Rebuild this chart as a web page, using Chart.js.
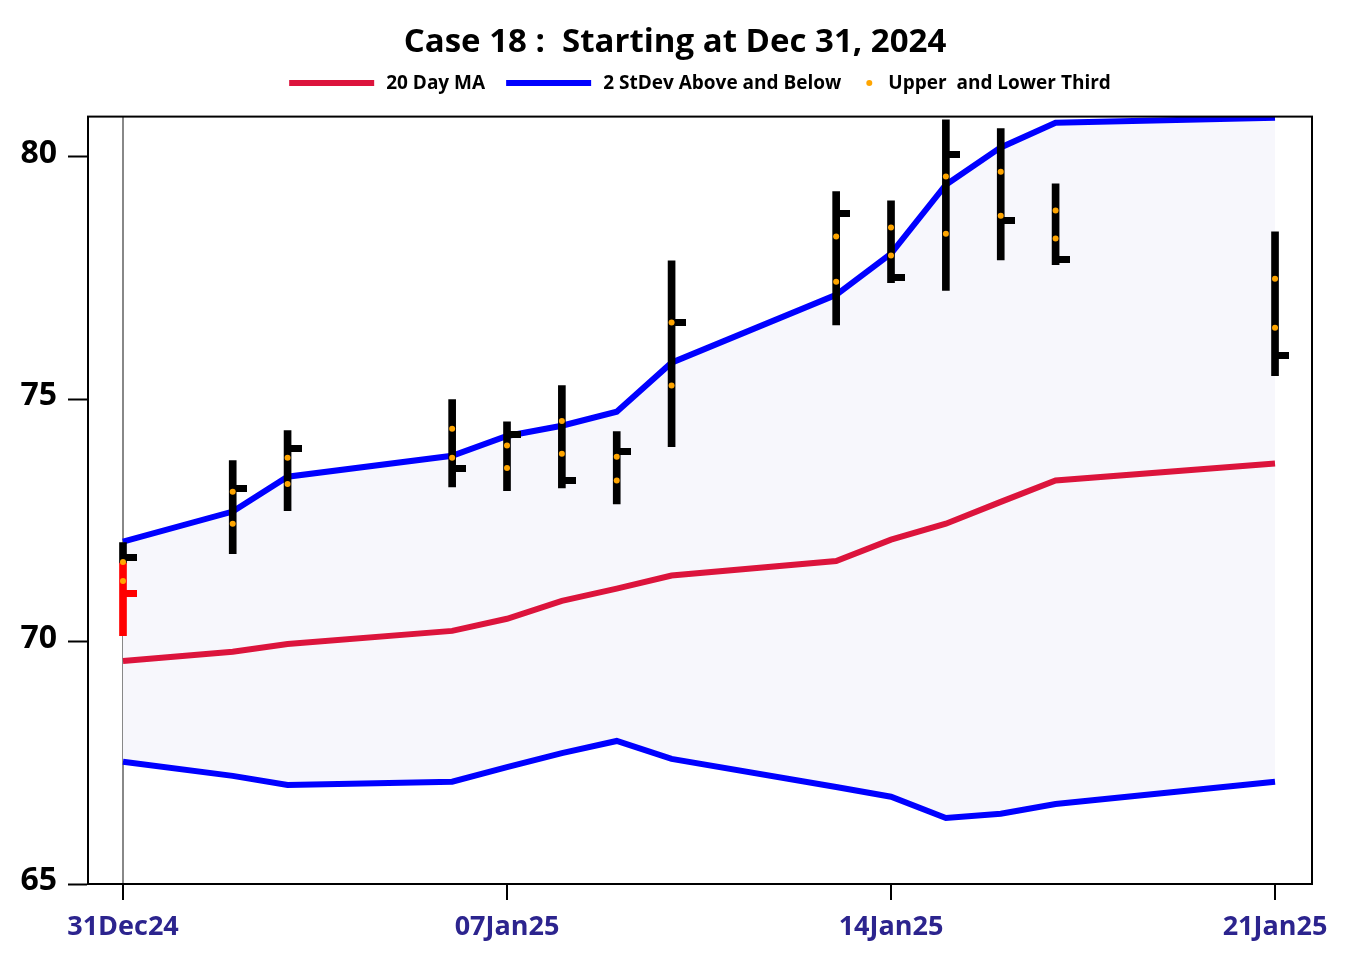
<!DOCTYPE html>
<html>
<head>
<meta charset="utf-8">
<title>Case 18</title>
<script src="https://cdn.jsdelivr.net/npm/chart.js@4.4.1/dist/chart.umd.min.js"></script>
<style>
  html, body { margin: 0; padding: 0; background: #fff; }
</style>
</head>
<body>
<canvas id="bandChart" width="1350" height="975"></canvas>
<script>
// trading days, counted from 31Dec24
const days = [0, 2, 3, 6, 7, 8, 9, 10, 13, 14, 15, 16, 17, 21];

const ma20      = [69.60, 69.79, 69.95, 70.22, 70.47, 70.84, 71.09, 71.36, 71.66, 72.10, 72.43, 72.88, 73.32, 73.67];
const upperBand = [72.06, 72.68, 73.40, 73.83, 74.24, 74.45, 74.74, 75.75, 77.15, 78.00, 79.42, 80.19, 80.70, 80.80];
const lowerBand = [67.52, 67.23, 67.04, 67.11, 67.41, 67.70, 67.95, 67.58, 67.00, 66.80, 66.36, 66.45, 66.65, 67.11];

const highs  = [72.04, 73.73, 74.35, 74.99, 74.53, 75.28, 74.33, 77.85, 79.28, 79.09, 80.76, 80.58, 79.44, 78.45];
const lows   = [71.62, 71.81, 72.70, 73.19, 73.11, 73.17, 72.84, 74.02, 76.53, 77.40, 77.24, 77.87, 77.77, 75.48];
const closes = [71.73, 73.15, 73.98, 73.56, 74.26, 73.32, 73.91, 76.58, 78.82, 77.50, 80.04, 78.68, 77.87, 75.89];

const upperThird = [71.64, 73.09, 73.79, 74.39, 74.04, 74.55, 73.81, 76.58, 78.35, 78.54, 79.59, 79.69, 78.89, 77.48];
const lowerThird = [71.25, 72.43, 73.25, 73.79, 73.58, 73.87, 73.32, 75.28, 77.42, 77.96, 78.41, 78.78, 78.31, 76.47];

// starting day bar (red)
const startHigh  = 71.62;
const startLow   = 70.12;
const startClose = 71.00;

const xTicks      = [0, 7, 14, 21];
const xTickLabels = ['31Dec24', '07Jan25', '14Jan25', '21Jan25'];
const yTicks      = [65, 70, 75, 80];

const FONT = '"Open Sans", "Noto Sans", sans-serif';

// close marker: a short stub to the right of the bar
function closeMark(color) {
  const c = document.createElement('canvas');
  c.width = 28; c.height = 7;
  const g = c.getContext('2d');
  g.fillStyle = color;
  g.fillRect(14, 0, 14, 7);
  return c;
}

const legendItems = [
  { text: '20 Day MA', color: '#DC143C', kind: 'line' },
  { text: '2 StDev Above and Below', color: '#0000FF', kind: 'line' },
  { text: 'Upper  and Lower Third', color: '#FFA500', kind: 'dot' }
];

const bandLegend = {
  id: 'bandLegend',
  afterDraw(chart) {
    const ctx = chart.ctx;
    const area = chart.chartArea;
    ctx.save();
    ctx.font = 'bold 19px ' + FONT;
    ctx.textBaseline = 'middle';
    const widths = legendItems.map(it => (it.kind === 'line' ? 85 : 14) + 12 + ctx.measureText(it.text).width);
    const total = widths.reduce((a, b) => a + b, 0) + 21 * (legendItems.length - 1);
    let x = (area.left + area.right) / 2 - total / 2;
    const y = 83;
    legendItems.forEach((it, i) => {
      ctx.fillStyle = it.color;
      if (it.kind === 'line') {
        ctx.fillRect(x, y - 3, 85, 6);
      } else {
        ctx.beginPath();
        ctx.arc(x + 7, y, 3, 0, Math.PI * 2);
        ctx.fill();
      }
      ctx.fillStyle = '#000';
      ctx.fillText(it.text, x + (it.kind === 'line' ? 85 : 14) + 12, y + 1);
      x += widths[i] + 21;
    });
    ctx.restore();
  }
};

const frame = {
  id: 'frame',
  afterDatasetsDraw(chart) {
    const a = chart.chartArea;
    const ctx = chart.ctx;
    ctx.save();
    ctx.strokeStyle = '#000';
    ctx.lineWidth = 2;
    ctx.strokeRect(a.left, a.top, a.right - a.left, a.bottom - a.top);
    ctx.restore();
  }
};

const pts = arr => days.map((d, i) => ({ x: d, y: arr[i] }));

new Chart(document.getElementById('bandChart'), {
  type: 'line',
  data: {
    datasets: [
      {
        type: 'scatter',
        label: 'Upper  and Lower Third',
        data: pts(upperThird).concat(pts(lowerThird)),
        backgroundColor: '#FFA500',
        borderWidth: 0,
        pointRadius: 3,
        order: 0
      },
      {
        type: 'scatter',
        label: 'start close',
        data: [{ x: days[0], y: startClose }],
        pointStyle: closeMark('#FF0000'),
        pointRadius: 3,
        order: 1
      },
      {
        type: 'bar',
        label: 'start range',
        data: [{ x: days[0], y: [startLow, startHigh] }],
        backgroundColor: '#FF0000',
        barThickness: 7,
        grouped: false,
        order: 2
      },
      {
        type: 'scatter',
        label: 'close',
        data: pts(closes),
        pointStyle: closeMark('#000000'),
        pointRadius: 3,
        order: 3
      },
      {
        type: 'bar',
        label: 'range',
        data: days.map((d, i) => ({ x: d, y: [lows[i], highs[i]] })),
        backgroundColor: '#000000',
        barThickness: 7,
        grouped: false,
        order: 4
      },
      {
        label: '20 Day MA',
        data: pts(ma20),
        borderColor: '#DC143C',
        borderWidth: 6,
        pointRadius: 0,
        fill: false,
        order: 5
      },
      {
        label: '2 StDev Above and Below',
        data: pts(upperBand),
        borderColor: '#0000FF',
        backgroundColor: '#F7F7FC',
        borderWidth: 6,
        pointRadius: 0,
        fill: '+1',
        order: 6
      },
      {
        label: 'lower band',
        data: pts(lowerBand),
        borderColor: '#0000FF',
        borderWidth: 6,
        pointRadius: 0,
        fill: false,
        order: 7
      }
    ]
  },
  options: {
    responsive: false,
    animation: false,
    layout: { padding: 0 },
    plugins: {
      legend: { display: false },
      tooltip: { enabled: false },
      filler: { drawTime: 'beforeDatasetsDraw' },
      title: {
        display: true,
        text: 'Case 18 :  Starting at Dec 31, 2024',
        color: '#000',
        font: { family: FONT, size: 33, weight: 'bold' },
        padding: { top: 23, bottom: 54 }
      }
    },
    scales: {
      x: {
        type: 'linear',
        min: -0.638,
        max: 21.674,
        offset: false,
        afterBuildTicks: s => { s.ticks = xTicks.map(v => ({ value: v })); },
        afterFit: s => { s.height = 91; },
        ticks: {
          callback: (v, i) => xTickLabels[i],
          color: '#2C248E',
          font: { family: FONT, size: 27, weight: 'bold' },
          padding: 11,
          maxRotation: 0,
          autoSkip: false
        },
        grid: {
          offset: false,
          color: c => (c.tick && c.tick.value === 0) ? '#888888' : 'rgba(0,0,0,0)',
          lineWidth: 2,
          tickColor: '#000',
          tickLength: 16,
          tickWidth: 2
        },
        border: { color: '#000', width: 2 }
      },
      y: {
        min: 65,
        max: 80.825,
        afterBuildTicks: s => { s.ticks = yTicks.map(v => ({ value: v })); },
        afterFit: s => { s.width = 88; },
        ticks: {
          color: '#000',
          font: { family: FONT, size: 32, weight: 'bold' },
          padding: 11,
          labelOffset: -3
        },
        grid: {
          drawOnChartArea: false,
          tickColor: '#000',
          tickLength: 20,
          tickWidth: 2
        },
        border: { color: '#000', width: 2 }
      },
      // empty right-hand strip so the title centres on the whole canvas
      yRight: {
        position: 'right',
        min: 65,
        max: 80.825,
        ticks: { display: false },
        grid: { display: false },
        border: { display: false },
        afterFit: s => { s.width = 38; }
      }
    }
  },
  plugins: [bandLegend, frame]
});
</script>
</body>
</html>
